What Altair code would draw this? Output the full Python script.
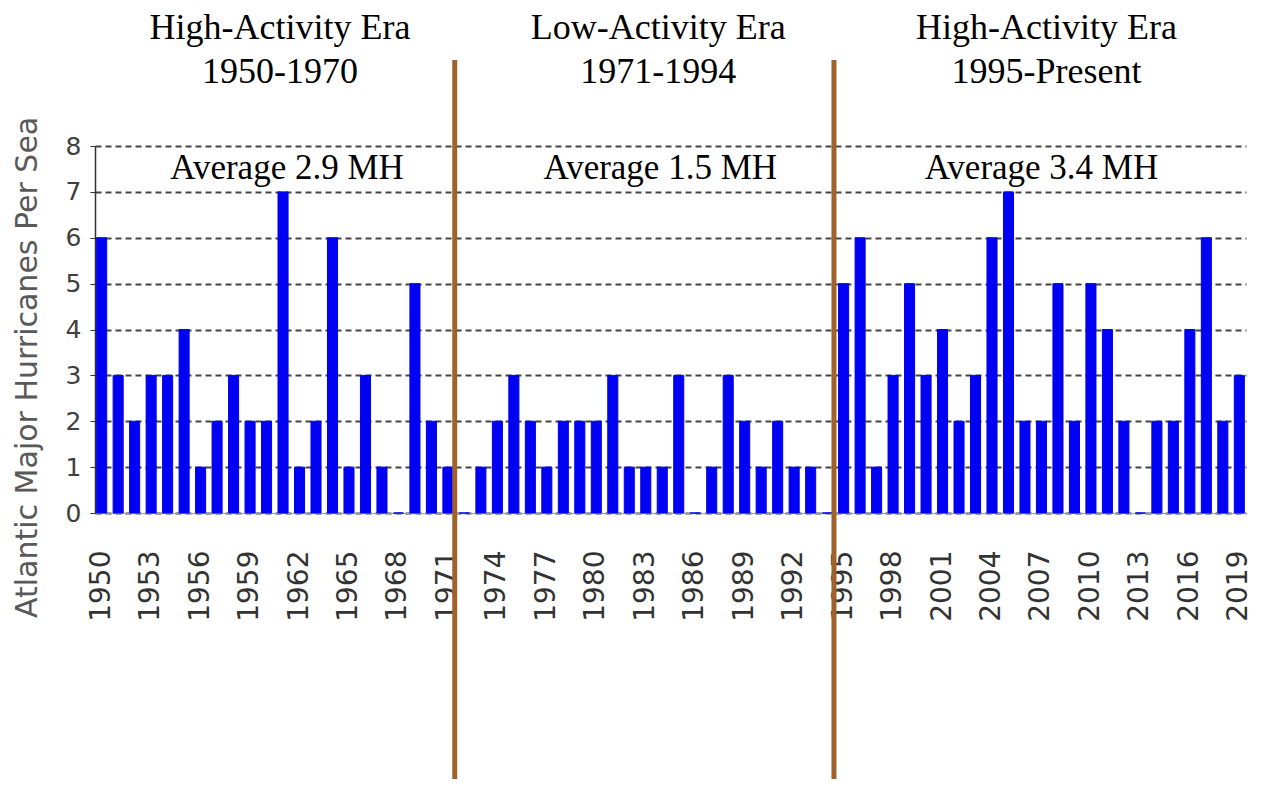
import altair as alt
import pandas as pd

# ---- data ----
YEARS = list(range(1950, 2020))
MAJOR_HURRICANES = [
    6, 3, 2, 3, 3, 4, 1, 2, 3, 2, 2, 7, 1, 2, 6, 1, 3, 1, 0, 5, 2,   # 1950-1970
    1, 0, 1, 2, 3, 2, 1, 2, 2, 2, 3, 1, 1, 1, 3, 0, 1, 3, 2, 1, 2, 1, 1, 0,  # 1971-1994
    5, 6, 1, 3, 5, 3, 4, 2, 3, 6, 7, 2, 2, 5, 2, 5, 4, 2, 0, 2, 2, 4, 6, 2, 3,  # 1995-2019
]
TICK_YEARS = [1950, 1953, 1956, 1959, 1962, 1965, 1968, 1971, 1974, 1977, 1980,
              1983, 1986, 1989, 1992, 1995, 1998, 2001, 2004, 2007, 2010, 2013,
              2016, 2019]
DIVIDER_YEARS = [1971, 1994]
ERA_TITLES = ["High-Activity Era\n1950-1970", "Low-Activity Era\n1971-1994",
              "High-Activity Era\n1995-Present"]
ERA_ANCHOR_YEARS = [1961, 1984, 2007]
AVERAGES = ["Average 2.9 MH", "Average 1.5 MH", "Average 3.4 MH"]
Y_TITLE = "Atlantic Major Hurricanes Per Season"

df = pd.DataFrame({"year": YEARS, "count": MAJOR_HURRICANES})

BLUE = "#0000F2"
BROWN = "#A0622D"
SANS = "DejaVu Sans"

xscale = alt.Scale(paddingInner=0.39, paddingOuter=0.1)
xaxis = alt.Axis(values=TICK_YEARS, labelAngle=-90, labelPadding=37,
                 labelFontSize=28, labelColor="#333333", labelFont=SANS,
                 ticks=False, domainColor="#9a9a9a", domainWidth=1,
                 title=None, grid=False)


def xenc(**kw):
    return alt.X("year:O", scale=xscale, axis=xaxis, **kw)


bars = alt.Chart(df).mark_bar(color=BLUE, stroke=BLUE, strokeWidth=1).encode(
    x=xenc(),
    y=alt.Y("count:Q", scale=alt.Scale(domain=[0, 8], nice=False),
            axis=alt.Axis(values=list(range(0, 9)), labelFontSize=25, labelColor="#404040",
                          labelFont=SANS, labelPadding=9, tickSize=5,
                          tickColor="#333333", domainColor="#333333", domainWidth=1.5,
                          grid=True, gridColor="#444444", gridDash=[6, 4], gridWidth=2,
                          title=None)),
)

dividers = alt.Chart(pd.DataFrame({"year": DIVIDER_YEARS})).mark_rule(
    color=BROWN, strokeWidth=5, xOffset=1.8
).encode(
    x=xenc(bandPosition=1),
    y=alt.value(-86),
    y2=alt.value(650),
)

layers = [bars, dividers]

title_dx = [-3, -4, 5]
avg_dx = [4, -2, 0]
for yr, ttl, dx in zip(ERA_ANCHOR_YEARS, ERA_TITLES, title_dx):
    layers.append(
        alt.Chart(pd.DataFrame({"year": [yr], "label": [ttl]})).mark_text(
            font="Liberation Serif", fontSize=36, color="black", align="center",
            baseline="alphabetic", lineBreak="\n", lineHeight=44, dx=dx
        ).encode(x=xenc(), y=alt.value(-107), text="label:N")
    )
for yr, ttl, dx in zip(ERA_ANCHOR_YEARS, AVERAGES, avg_dx):
    layers.append(
        alt.Chart(pd.DataFrame({"year": [yr], "label": [ttl]})).mark_text(
            font="Liberation Serif", fontSize=35, color="black", align="center",
            baseline="alphabetic", dx=dx
        ).encode(x=xenc(), y=alt.value(33), text="label:N")
    )

ytitle = alt.Chart(pd.DataFrame({"t": [Y_TITLE]})).mark_text(
    font=SANS, fontSize=30, color="#595959", angle=270, align="left",
    baseline="middle", limit=505, ellipsis="\u200b"
).encode(x=alt.value(-67), y=alt.value(472), text="t:N")
layers.append(ytitle)

chart = alt.layer(*layers).properties(
    width=1151, height=367,
    autosize=alt.AutoSizeParams(type="none"),
    padding={"left": 87, "top": 138, "right": 7, "bottom": 266},
    background="white",
).configure_view(stroke=None)

chart.save("out.html", embed_options={"renderer": "svg", "actions": False})
